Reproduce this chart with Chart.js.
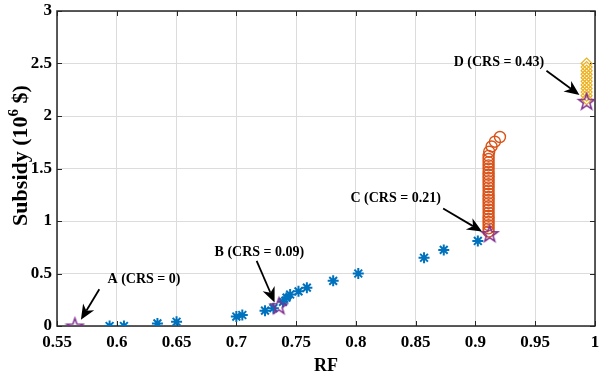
<!DOCTYPE html>
<html lang="en">
<head>
<meta charset="UTF-8">
<title>Subsidy vs RF</title>
<style>
  html, body { margin: 0; padding: 0; background: #fff; }
  #wrap { width: 610px; height: 375px; }
</style>
</head>
<body>
<div id="wrap"><canvas id="chart" width="610" height="375"></canvas></div>
<script src="https://cdn.jsdelivr.net/npm/chart.js@4"></script>
<script>
// blue asterisks
const rfBlue  = [0.594, 0.606, 0.634, 0.650, 0.700, 0.705, 0.724, 0.731, 0.739, 0.742, 0.745, 0.752, 0.759, 0.781, 0.802, 0.857, 0.8735, 0.902];
const subBlue = [0.000, 0.000, 0.025, 0.040, 0.090, 0.105, 0.146, 0.170, 0.230, 0.270, 0.300, 0.330, 0.365, 0.430, 0.500, 0.650, 0.725, 0.810];

// orange circles
const rfOrange  = [0.911, 0.911, 0.911, 0.911, 0.911, 0.911, 0.911, 0.911, 0.911, 0.911, 0.911, 0.911, 0.911, 0.911, 0.911, 0.911, 0.911, 0.911, 0.911, 0.911, 0.911, 0.911, 0.911, 0.911, 0.911, 0.9115, 0.9135, 0.9163, 0.9205];
const subOrange = [0.90, 0.93, 0.96, 0.99, 1.02, 1.05, 1.08, 1.11, 1.14, 1.17, 1.20, 1.23, 1.26, 1.29, 1.32, 1.35, 1.38, 1.41, 1.44, 1.47, 1.50, 1.53, 1.56, 1.59, 1.62, 1.66, 1.71, 1.755, 1.80];

// yellow diamonds
const rfYellow  = [0.993, 0.993, 0.993, 0.993, 0.993, 0.993, 0.993, 0.993, 0.993, 0.993, 0.993];
const subYellow = [2.16, 2.194, 2.228, 2.262, 2.296, 2.33, 2.364, 2.398, 2.432, 2.466, 2.50];

// highlighted points A-D
const starLabels = ['A (CRS = 0)', 'B (CRS = 0.09)', 'C (CRS = 0.21)', 'D (CRS = 0.43)'];
const rfStar  = [0.565, 0.7356, 0.912, 0.993];
const subStar = [0.000, 0.193, 0.880, 2.140];

const xTicks = [0.55, 0.6, 0.65, 0.7, 0.75, 0.8, 0.85, 0.9, 0.95, 1];
const yTicks = [0, 0.5, 1, 1.5, 2, 2.5, 3];

// where each label text and arrow sit (data units)
const notePos = [
  { tx: 0.6228, ty: 0.44, ax: 0.5854, ay: 0.35, bx: 0.5700, by: 0.060 },
  { tx: 0.7193, ty: 0.705, ax: 0.7170, ay: 0.62, bx: 0.7320, by: 0.225 },
  { tx: 0.8333, ty: 1.216, ax: 0.8730, ay: 1.12, bx: 0.9055, by: 0.900 },
  { tx: 0.9196, ty: 2.507, ax: 0.9594, ay: 2.43, bx: 0.9870, by: 2.200 }
];

const FONT = "'Liberation Serif', 'Times New Roman', serif";

function toXY(xs, ys) {
  return xs.map((x, i) => ({ x: x, y: ys[i] }));
}

function makeStar(r, color) {
  const s = Math.ceil(r * 2 + 4);
  const c = document.createElement('canvas');
  c.width = s; c.height = s;
  const g = c.getContext('2d');
  g.strokeStyle = color;
  g.lineWidth = 1.5;
  g.lineJoin = 'miter';
  g.beginPath();
  for (let i = 0; i < 10; i++) {
    const rad = i % 2 === 0 ? r : r * 0.4;
    const a = -Math.PI / 2 + i * Math.PI / 5;
    const px = s / 2 + rad * Math.cos(a), py = s / 2 + 0.8 + rad * Math.sin(a);
    if (i === 0) g.moveTo(px, py); else g.lineTo(px, py);
  }
  g.closePath();
  g.stroke();
  return c;
}

const starImg = makeStar(8.5, '#7E2F8E');

function drawArrow(ctx, x1, y1, x2, y2) {
  const ang = Math.atan2(y2 - y1, x2 - x1);
  const len = 15, half = 6.5, notch = 4.5;
  ctx.save();
  ctx.strokeStyle = '#000';
  ctx.fillStyle = '#000';
  ctx.lineWidth = 1.8;
  ctx.beginPath();
  ctx.moveTo(x1, y1);
  ctx.lineTo(x2 - Math.cos(ang) * (len - notch), y2 - Math.sin(ang) * (len - notch));
  ctx.stroke();
  ctx.translate(x2, y2);
  ctx.rotate(ang);
  ctx.beginPath();
  ctx.moveTo(0, 0);
  ctx.lineTo(-len, -half);
  ctx.lineTo(-len + notch, 0);
  ctx.lineTo(-len, half);
  ctx.closePath();
  ctx.fill();
  ctx.restore();
}

const framePlugin = {
  id: 'frame',
  beforeDatasetsDraw(chart) {
    const { ctx, chartArea: a, scales } = chart;
    ctx.save();
    ctx.strokeStyle = '#262626';
    ctx.lineWidth = 1;
    ctx.beginPath();
    xTicks.forEach(v => {
      const px = Math.round(scales.x.getPixelForValue(v)) + 0.5;
      ctx.moveTo(px, a.bottom); ctx.lineTo(px, a.bottom - 5);
      ctx.moveTo(px, a.top); ctx.lineTo(px, a.top + 5);
    });
    yTicks.forEach(v => {
      const py = Math.round(scales.y.getPixelForValue(v)) + 0.5;
      ctx.moveTo(a.left, py); ctx.lineTo(a.left + 5, py);
      ctx.moveTo(a.right, py); ctx.lineTo(a.right - 5, py);
    });
    ctx.stroke();
    ctx.lineWidth = 1.5;
    ctx.strokeRect(a.left, a.top, a.right - a.left, a.bottom - a.top);
    ctx.restore();
  },
  afterDatasetsDraw(chart) {
    const { ctx, scales } = chart;
    ctx.save();
    starLabels.forEach((txt, i) => {
      const p = notePos[i];
      drawArrow(ctx,
        scales.x.getPixelForValue(p.ax), scales.y.getPixelForValue(p.ay),
        scales.x.getPixelForValue(p.bx), scales.y.getPixelForValue(p.by));
      ctx.font = 'bold 14px ' + FONT;
      ctx.fillStyle = '#000';
      ctx.textAlign = 'center';
      ctx.textBaseline = 'middle';
      ctx.fillText(txt, scales.x.getPixelForValue(p.tx), scales.y.getPixelForValue(p.ty));
    });
    ctx.restore();
  },
  afterDraw(chart) {
    // y axis title with a real superscript
    const { ctx, chartArea: a } = chart;
    const main1 = 'Subsidy (10', sup = '6', main2 = ' $)';
    const big = 'bold 22px ' + FONT, small = 'bold 15px ' + FONT;
    ctx.save();
    ctx.fillStyle = '#000';
    ctx.font = big;
    const w1 = ctx.measureText(main1).width, w3 = ctx.measureText(main2).width;
    ctx.font = small;
    const w2 = ctx.measureText(sup).width;
    const total = w1 + w2 + w3;
    ctx.translate(21, (a.top + a.bottom) / 2 - 13);
    ctx.rotate(-Math.PI / 2);
    ctx.textBaseline = 'middle';
    ctx.textAlign = 'left';
    let x = -total / 2;
    ctx.font = big;
    ctx.fillText(main1, x, 0);
    x += w1;
    ctx.font = small;
    ctx.fillText(sup, x, -7);
    x += w2;
    ctx.font = big;
    ctx.fillText(main2, x, 0);
    ctx.restore();
  }
};

const ctx = document.getElementById('chart').getContext('2d');
const chart = new Chart(ctx, {
  type: 'scatter',
  data: {
    datasets: [
      {
        label: 'Points',
        data: toXY(rfStar, subStar),
        pointStyle: starImg,
        pointRadius: 8,
        order: 0
      },
      {
        label: 'Blue',
        data: toXY(rfBlue, subBlue),
        pointStyle: 'star',
        pointRadius: 5.5,
        borderColor: '#0072BD',
        backgroundColor: '#0072BD',
        pointBorderWidth: 2,
        order: 3
      },
      {
        label: 'Orange',
        data: toXY(rfOrange, subOrange),
        pointStyle: 'circle',
        pointRadius: 5.5,
        borderColor: '#D95319',
        backgroundColor: 'rgba(0,0,0,0)',
        pointBorderWidth: 1.4,
        order: 2
      },
      {
        label: 'Yellow',
        data: toXY(rfYellow, subYellow),
        pointStyle: 'rectRot',
        pointRadius: 5.5,
        borderColor: '#EDB120',
        backgroundColor: 'rgba(0,0,0,0)',
        pointBorderWidth: 1.2,
        order: 1
      }
    ]
  },
  options: {
    responsive: false,
    animation: false,
    devicePixelRatio: 1,
    layout: { padding: { top: 11, right: 15, left: 0, bottom: 0 } },
    plugins: {
      legend: { display: false },
      tooltip: { enabled: false }
    },
    scales: {
      x: {
        type: 'linear',
        min: 0.55,
        max: 1,
        afterFit(scale) {
          scale.height = 49;
          scale.paddingLeft = 0;
          scale.paddingRight = 0;
        },
        afterBuildTicks(scale) { scale.ticks = xTicks.map(v => ({ value: v })); },
        ticks: {
          padding: 6,
          color: '#000',
          font: { family: FONT, size: 17, weight: 'bold' },
          maxRotation: 0,
          autoSkip: false,
          callback: v => String(Number(v.toFixed(2)))
        },
        grid: { color: '#dcdcdc', lineWidth: 1, drawTicks: false },
        border: { display: false },
        title: {
          display: true,
          text: 'RF',
          color: '#000',
          font: { family: FONT, size: 18, weight: 'bold', lineHeight: 1 },
          padding: { top: 0, bottom: 0 }
        }
      },
      y: {
        type: 'linear',
        min: 0,
        max: 3,
        afterFit(scale) {
          scale.width = 57;
          scale.paddingTop = 0;
          scale.paddingBottom = 0;
        },
        afterBuildTicks(scale) { scale.ticks = yTicks.map(v => ({ value: v })); },
        ticks: {
          padding: 5,
          color: '#000',
          font: { family: FONT, size: 17, weight: 'bold' },
          autoSkip: false,
          callback: v => String(Number(v.toFixed(2)))
        },
        grid: { color: '#dcdcdc', lineWidth: 1, drawTicks: false },
        border: { display: false },
        title: { display: false }
      }
    }
  },
  plugins: [framePlugin]
});
</script>
</body>
</html>
